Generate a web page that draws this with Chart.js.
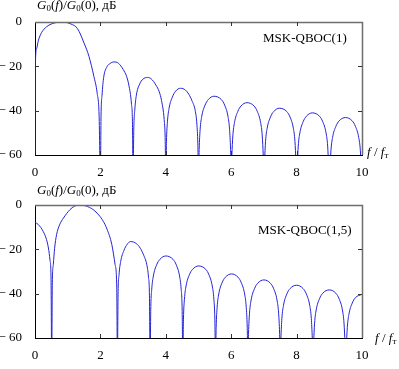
<!DOCTYPE html>
<html>
<head>
<meta charset="utf-8">
<script src="https://cdn.jsdelivr.net/npm/chart.js@4.4.1/dist/chart.umd.min.js"></script>
<style>
  html, body { margin: 0; padding: 0; background: #fff; }
  body { width: 399px; height: 369px; position: relative; overflow: hidden; font-family: "Liberation Serif", "DejaVu Serif", serif; color: #000; }
  canvas { position: absolute; left: 0; }
  .lbl { position: absolute; font-size: 13px; line-height: 13px; white-space: nowrap; }
  .lbl sub { font-size: 9px; vertical-align: -2px; line-height: 0; }
</style>
</head>
<body>
<canvas id="c1" width="399" height="185" style="top:0"></canvas>
<canvas id="c2" width="399" height="184" style="top:185px"></canvas>

<div class="lbl" style="left:37px; top:-2px;"><i>G</i><sub>0</sub>(<i>f</i>)/<i>G</i><sub>0</sub>(0), дБ</div>
<div class="lbl" style="left:263px; top:31px;">MSK-QBOC(1)</div>
<div class="lbl" style="left:367px; top:145px;"><i>f</i> / <i>f</i><sub>т</sub></div>

<div class="lbl" style="left:37px; top:183px;"><i>G</i><sub>0</sub>(<i>f</i>)/<i>G</i><sub>0</sub>(0), дБ</div>
<div class="lbl" style="left:258px; top:223px;">MSK-QBOC(1,5)</div>
<div class="lbl" style="left:375px; top:331px;"><i>f</i> / <i>f</i><sub>т</sub></div>

<script>
// ---- data ----
const xTicks = [0, 2, 4, 6, 8, 10];
const yTicks = [0, -20, -40, -60];

// MSK-QBOC(1)
const topFreq = [
  0, 0.01, 0.05, 0.1, 0.2, 0.35, 0.5, 0.8, 1.1, 1.3, 1.5, 1.65, 1.8, 1.9, 1.96, 2,
  2.02, 2.05, 2.1, 2.2, 2.3, 2.41, 2.55, 2.7, 2.8, 2.87, 2.95, 2.98, 3,
  3.02, 3.05, 3.1, 3.2, 3.3, 3.44, 3.55, 3.7, 3.8, 3.87, 3.95, 3.98, 4,
  4.02, 4.05, 4.1, 4.2, 4.3, 4.45, 4.6, 4.7, 4.8, 4.9, 4.95, 4.98, 5,
  5.02, 5.05, 5.1, 5.2, 5.3, 5.47, 5.7, 5.8, 5.9, 5.95, 5.98, 6,
  6.02, 6.05, 6.1, 6.2, 6.3, 6.48, 6.7, 6.8, 6.9, 6.95, 6.98, 7,
  7.02, 7.05, 7.1, 7.2, 7.3, 7.47, 7.7, 7.8, 7.9, 7.95, 7.98, 8,
  8.02, 8.05, 8.1, 8.2, 8.3, 8.48, 8.7, 8.8, 8.9, 8.95, 8.98, 9,
  9.02, 9.05, 9.1, 9.2, 9.3, 9.5, 9.7, 9.8, 9.9, 9.95, 9.98, 10
];
const topLevel = [
  -70, -20, -12, -8.5, -4.8, -2.2, -0.9, 0, -0.9, -3, -9.5, -15.5, -24.5, -32, -42, -70,
  -42, -33, -25, -20.2, -18.7, -18, -18.6, -21.5, -24.5, -28.5, -37, -45, -70,
  -49, -40, -33, -28, -25.8, -25, -25.6, -28.5, -31.5, -35.5, -44, -52, -70,
  -54, -45, -38.9, -33.9, -31.2, -29.9, -30.7, -32.5, -35.5, -40, -46, -55, -70,
  -57.5, -48.5, -42.5, -37.5, -35, -33.5, -35, -37.5, -42.5, -48.5, -57.5, -70,
  -60.4, -51.4, -45.4, -40.4, -37.9, -36.4, -37.9, -40.4, -45.4, -51.4, -60.4, -70,
  -62.9, -53.9, -47.9, -42.9, -40.4, -38.9, -40.4, -42.9, -47.9, -53.9, -62.9, -70,
  -65, -56, -50, -45, -42.5, -41, -42.5, -45, -50, -56, -65, -70,
  -67.1, -58.1, -52.1, -47.1, -44.6, -43.1, -44.6, -47.1, -52.1, -58.1, -67.1, -70
];

// MSK-QBOC(1,5)
const bottomFreq = [
  0, 0.1, 0.25, 0.35, 0.41, 0.46, 0.49, 0.51,
  0.53, 0.56, 0.6, 0.66, 0.75, 0.87, 1.07, 1.2, 1.38, 1.55, 1.78, 1.95, 2.09, 2.2, 2.35, 2.45, 2.5, 2.52,
  2.54, 2.57, 2.62, 2.72, 2.82, 2.92, 3.1, 3.22, 3.32, 3.42, 3.47, 3.5, 3.52,
  3.54, 3.57, 3.62, 3.72, 3.82, 4.0, 4.22, 4.32, 4.42, 4.47, 4.5, 4.52,
  4.54, 4.57, 4.62, 4.72, 4.82, 5.0, 5.22, 5.32, 5.42, 5.47, 5.5, 5.52,
  5.54, 5.57, 5.62, 5.72, 5.82, 6.01, 6.21, 6.31, 6.41, 6.46, 6.49, 6.51,
  6.53, 6.56, 6.61, 6.71, 6.81, 7.0, 7.2, 7.3, 7.4, 7.45, 7.48, 7.5,
  7.52, 7.55, 7.6, 7.7, 7.8, 8.0, 8.2, 8.3, 8.4, 8.45, 8.48, 8.5,
  8.52, 8.55, 8.6, 8.7, 8.8, 9.0, 9.2, 9.3, 9.4, 9.45, 9.48, 9.5,
  9.52, 9.55, 9.6, 9.7, 9.8, 10
];
const bottomLevel = [
  -7.8, -8.8, -11.9, -15.5, -19.4, -25, -33, -70,
  -35, -26.9, -19.5, -13.4, -9, -5.9, -2.1, -0.6, 0, -0.4, -2.1, -4.5, -7.4, -10.8, -17.9, -26.9, -37, -70,
  -40.5, -31.5, -25.5, -20.5, -17.7, -16.5, -17.4, -19.5, -22.5, -27, -32.5, -41, -70,
  -47, -38, -32, -27, -24.5, -23, -24.5, -27, -32, -38, -47, -70,
  -51.5, -42.5, -36.5, -31.5, -29, -27.5, -29, -31.5, -36.5, -42.5, -51.5, -70,
  -55.1, -46.1, -40.1, -35.1, -32.6, -31.1, -32.6, -35.1, -40.1, -46.1, -55.1, -70,
  -57.8, -48.8, -42.8, -37.8, -35.3, -33.8, -35.3, -37.8, -42.8, -48.8, -57.8, -70,
  -60.2, -51.2, -45.2, -40.2, -37.7, -36.2, -37.7, -40.2, -45.2, -51.2, -60.2, -70,
  -62.3, -53.3, -47.3, -42.3, -39.8, -38.3, -39.8, -42.3, -47.3, -53.3, -62.3, -70,
  -64.3, -55.3, -49.3, -44.3, -41.8, -40.3
];

// ---- chart construction ----
const LINE_COLOR = '#2323d6';
const FONT = { family: '"Liberation Serif", "DejaVu Serif", serif', size: 13 };

const frameTicks = {
  id: 'frameTicks',
  afterDraw(chart) {
    const { ctx, chartArea: a, scales } = chart;
    const len = 4;
    ctx.save();
    ctx.strokeStyle = '#6e6e6e';
    ctx.lineWidth = 1.5;
    ctx.beginPath();
    ctx.moveTo(a.left, a.top + 0.5);
    ctx.lineTo(a.right + 0.5, a.top + 0.5);
    ctx.lineTo(a.right + 0.5, a.bottom);
    ctx.stroke();
    ctx.lineWidth = 1;
    ctx.strokeStyle = '#333';
    ctx.beginPath();
    xTicks.forEach(v => {
      if (v === 0 || v === 10) return;
      const x = Math.round(scales.x.getPixelForValue(v)) + 0.5;
      ctx.moveTo(x, a.bottom); ctx.lineTo(x, a.bottom - len);
      ctx.moveTo(x, a.top); ctx.lineTo(x, a.top + len);
    });
    yTicks.forEach(v => {
      if (v === 0 || v === -60) return;
      const y = Math.round(scales.y.getPixelForValue(v)) + 0.5;
      ctx.moveTo(a.left, y); ctx.lineTo(a.left + len, y);
      ctx.moveTo(a.right, y); ctx.lineTo(a.right - len, y);
    });
    ctx.stroke();
    ctx.restore();
  }
};

function makeChart(id, freq, level, padTop, axisH) {
  const pts = freq.map((f, i) => ({ x: f, y: level[i] }));
  return new Chart(document.getElementById(id), {
    type: 'line',
    data: {
      datasets: [{
        data: pts,
        borderColor: LINE_COLOR,
        borderWidth: 1,
        pointRadius: 0,
        fill: false,
        cubicInterpolationMode: 'monotone'
      }]
    },
    options: {
      responsive: false,
      animation: false,
      devicePixelRatio: 1,
      layout: { padding: { top: padTop, right: 37, left: 0, bottom: 0 } },
      plugins: { legend: { display: false }, tooltip: { enabled: false } },
      scales: {
        x: {
          type: 'linear', min: 0, max: 10,
          afterBuildTicks: s => { s.ticks = xTicks.map(v => ({ value: v })); },
          afterFit: s => { s.height = axisH; },
          grid: { display: false },
          border: { display: true, color: '#000', width: 1 },
          ticks: { font: FONT, color: '#000', padding: 2, maxRotation: 0, autoSkip: false }
        },
        y: {
          type: 'linear', min: -60, max: 0,
          afterBuildTicks: s => { s.ticks = yTicks.map(v => ({ value: v })); },
          afterFit: s => { s.width = 35; },
          grid: { display: false },
          border: { display: true, color: '#000', width: 1 },
          ticks: {
            font: FONT, color: '#000', padding: 5,
            callback: v => (v < 0 ? '\u2212 ' + Math.abs(v) : String(v))
          }
        }
      }
    },
    plugins: [frameTicks]
  });
}

makeChart('c1', topFreq, topLevel, 22, 30);
makeChart('c2', bottomFreq, bottomLevel, 20, 31);
</script>
</body>
</html>
